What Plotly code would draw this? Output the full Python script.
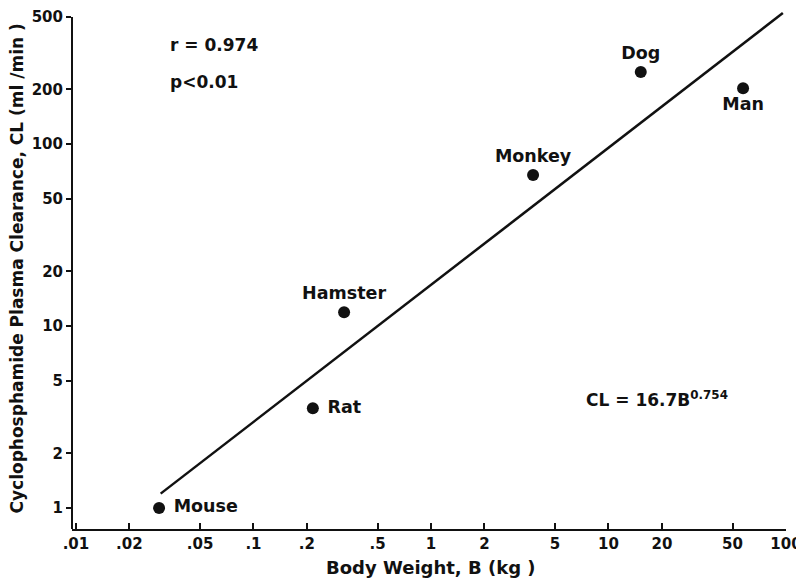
import numpy as np
import plotly.graph_objects as go

species = ["Mouse", "Rat", "Hamster", "Monkey", "Dog", "Man"]
body_weight = [0.0294, 0.216, 0.324, 3.76, 15.2, 57.3]
clearance = [1.0, 3.54, 11.9, 67.6, 249, 203]
label_pos = ["middle right", "middle right", "top center", "top center", "top center", "bottom center"]

fit_x = [0.03, 96]
fit_y = [1.2, 525]

x_ticks = [0.01, 0.02, 0.05, 0.1, 0.2, 0.5, 1, 2, 5, 10, 20, 50, 100]
x_ticktext = [".01", ".02", ".05", ".1", ".2", ".5", "1", "2", "5", "10", "20", "50", "100"]
y_ticks = [1, 2, 5, 10, 20, 50, 100, 200, 500]
y_ticktext = ["1", "2", "5", "10", "20", "50", "100", "200", "500"]

FONT = "DejaVu Sans"
BLACK = "#111111"

x_range = [np.log10(0.0095), np.log10(100)]
y_range = [np.log10(0.767), np.log10(560)]
y_axis_top = (np.log10(500) - y_range[0]) / (y_range[1] - y_range[0])

def f(size):
    return dict(family=FONT, size=size, color=BLACK, weight="bold")

fig = go.Figure()
fig.add_trace(go.Scatter(
    x=fit_x, y=fit_y, mode="lines",
    line=dict(color=BLACK, width=2.5), showlegend=False, hoverinfo="skip"))
fig.add_trace(go.Scatter(
    x=body_weight, y=clearance, mode="markers+text",
    text=[" " + s if p == "middle right" else s for s, p in zip(species, label_pos)],
    textposition=label_pos,
    textfont=f(17.5),
    marker=dict(size=12, color=BLACK),
    cliponaxis=False, showlegend=False))

# page body has an 8px default margin, so the figure is sized to fit inside it
fig.update_layout(
    width=796, height=575,
    margin=dict(l=64, r=18, t=0, b=54),
    paper_bgcolor="white", plot_bgcolor="white",
    font=f(16),
    xaxis=dict(
        type="log", range=x_range, tickvals=x_ticks, ticktext=x_ticktext,
        ticks="inside", ticklen=6, tickwidth=2, tickcolor=BLACK,
        showline=True, linecolor=BLACK, linewidth=2,
        showgrid=False, zeroline=False, automargin=False,
        tickfont=f(15),
    ),
    yaxis=dict(
        type="log", range=y_range, tickvals=y_ticks, ticktext=y_ticktext,
        ticks="outside", ticklen=5, tickwidth=2, tickcolor=BLACK,
        showline=False, showgrid=False, zeroline=False, automargin=False,
        tickfont=f(15),
    ),
    shapes=[dict(type="line", xref="paper", yref="paper", x0=0, x1=0,
                 y0=0, y1=y_axis_top, line=dict(color=BLACK, width=2))],
    annotations=[
        dict(x=0.503, y=0, xref="paper", yref="paper", yshift=-38,
             text="Body Weight, B (kg )", showarrow=False,
             xanchor="center", yanchor="middle", font=f(18)),
        dict(x=0, y=0.50, xref="paper", yref="paper", xshift=-56, textangle=-90,
             text="Cyclophosphamide Plasma Clearance, CL (ml /min )", showarrow=False,
             xanchor="center", yanchor="middle", font=f(17)),
        dict(x=-1.48, y=2.544, xref="x", yref="y", text="r = 0.974", showarrow=False,
             xanchor="left", yanchor="middle", font=f(17)),
        dict(x=-1.48, y=2.341, xref="x", yref="y", text="p&lt;0.01", showarrow=False,
             xanchor="left", yanchor="middle", font=f(17)),
        dict(x=0.862, y=0.60, xref="x", yref="y", text="CL = 16.7B<sup>0.754</sup>",
             showarrow=False, xanchor="left", yanchor="middle", font=f(17)),
    ],
)

fig.write_html("out.html")
